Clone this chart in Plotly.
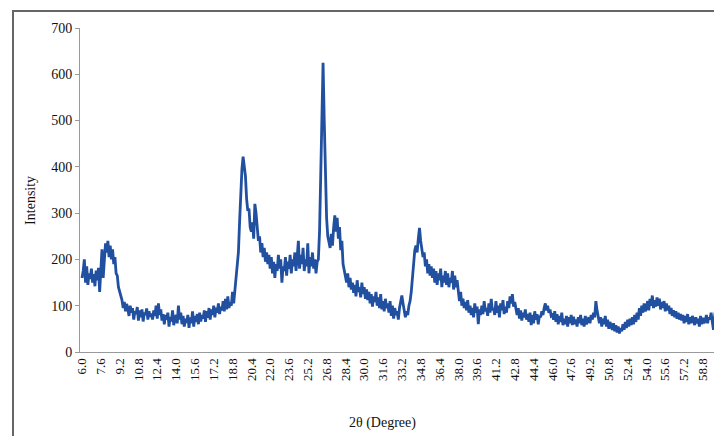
import plotly.graph_objects as go

# 2-theta start/step of the scan (degrees)
theta_start = 6.0
theta_step = 0.1

# Intensity, one row per degree (x.0 .. x.9)
intensity_rows = [
    [160, 175, 200, 150, 185, 145, 170, 158, 180, 150],   # 6
    [168, 142, 176, 155, 182, 130, 175, 222, 160, 200],   # 7
    [235, 215, 240, 205, 230, 200, 222, 190, 205, 170],   # 8
    [165, 140, 130, 118, 112, 95, 108, 88, 104, 92],      # 9
    [78, 100, 85, 95, 70, 88, 82, 97, 68, 90],            # 10
    [75, 92, 66, 85, 80, 94, 70, 88, 76, 83],             # 11
    [70, 90, 78, 100, 72, 105, 80, 92, 68, 82],           # 12
    [60, 80, 70, 85, 55, 76, 66, 90, 58, 72],             # 13
    [80, 62, 100, 70, 85, 60, 78, 55, 72, 63],            # 14
    [80, 52, 75, 62, 88, 55, 78, 65, 82, 60],             # 15
    [85, 66, 80, 72, 90, 65, 88, 74, 95, 70],             # 16
    [92, 80, 100, 75, 96, 85, 105, 82, 98, 90],           # 17
    [110, 88, 115, 92, 120, 95, 108, 100, 130, 105],      # 18
    [130, 150, 175, 215, 280, 350, 395, 422, 405, 380],   # 19
    [330, 305, 310, 270, 260, 280, 245, 320, 300, 265],   # 20
    [240, 250, 215, 235, 205, 225, 195, 215, 190, 210],   # 21
    [180, 205, 170, 195, 160, 190, 175, 210, 180, 200],   # 22
    [150, 185, 175, 205, 165, 195, 180, 210, 170, 200],   # 23
    [185, 215, 175, 205, 240, 180, 210, 190, 225, 175],   # 24
    [200, 185, 235, 170, 205, 185, 215, 180, 200, 170],   # 25
    [195, 200, 260, 380, 520, 625, 500, 360, 290, 250],   # 26
    [240, 225, 255, 230, 270, 295, 260, 290, 245, 270],   # 27
    [220, 240, 190, 175, 160, 150, 170, 140, 160, 135],   # 28
    [150, 128, 145, 120, 155, 130, 140, 118, 150, 125],   # 29
    [140, 115, 135, 112, 130, 105, 125, 98, 120, 108],    # 30
    [130, 100, 118, 95, 125, 92, 110, 88, 115, 95],       # 31
    [105, 85, 110, 78, 100, 72, 95, 80, 88, 70],          # 32
    [95, 112, 122, 105, 90, 75, 88, 80, 100, 110],        # 33
    [130, 165, 195, 220, 230, 215, 245, 268, 240, 225],   # 34
    [205, 215, 185, 200, 170, 190, 165, 185, 160, 180],   # 35
    [150, 175, 145, 170, 155, 180, 140, 165, 150, 175],   # 36
    [145, 170, 140, 160, 150, 175, 135, 165, 140, 155],   # 37
    [125, 110, 130, 100, 115, 95, 108, 90, 112, 85],      # 38
    [100, 80, 95, 75, 105, 85, 98, 60, 92, 80],           # 39
    [100, 82, 110, 88, 95, 78, 105, 85, 115, 90],         # 40
    [95, 80, 110, 85, 100, 75, 105, 90, 112, 82],         # 41
    [98, 85, 110, 95, 120, 105, 125, 98, 108, 88],        # 42
    [80, 95, 72, 90, 68, 85, 75, 92, 70, 82],             # 43
    [65, 85, 58, 80, 62, 88, 70, 82, 60, 78],             # 44
    [75, 88, 80, 95, 105, 90, 100, 85, 92, 78],           # 45
    [80, 70, 88, 65, 82, 60, 78, 65, 85, 58],             # 46
    [72, 60, 78, 55, 75, 62, 80, 58, 76, 60],             # 47
    [70, 55, 75, 62, 80, 58, 72, 55, 78, 60],             # 48
    [68, 75, 62, 80, 70, 85, 75, 110, 90, 78],            # 49
    [62, 75, 55, 72, 60, 78, 55, 70, 50, 65],             # 50
    [55, 48, 62, 45, 58, 42, 55, 40, 52, 45],             # 51
    [60, 48, 65, 52, 70, 55, 72, 58, 75, 60],             # 52
    [80, 65, 85, 70, 95, 78, 100, 85, 105, 88],           # 53
    [95, 110, 90, 115, 100, 122, 95, 112, 98, 118],       # 54
    [100, 115, 92, 108, 95, 110, 88, 105, 90, 100],       # 55
    [82, 95, 78, 90, 75, 88, 72, 85, 70, 82],             # 56
    [68, 80, 62, 78, 65, 82, 60, 75, 62, 78],             # 57
    [70, 58, 75, 62, 72, 55, 78, 60, 74, 62],             # 58
    [68, 80, 62, 75, 70, 85, 65, 48, 78, 95],             # 59
]

# Category tick labels shown on the x axis
tick_labels = ["6.0", "7.6", "9.2", "10.8", "12.4", "14.0", "15.6", "17.2", "18.8",
               "20.4", "22.0", "23.6", "25.2", "26.8", "28.4", "30.0", "31.6", "33.2",
               "34.8", "36.4", "38.0", "39.6", "41.2", "42.8", "44.4", "46.0", "47.6",
               "49.2", "50.8", "52.4", "54.0", "55.6", "57.2", "58.8"]

y_vals = [v for row in intensity_rows for v in row]
x_vals = [round(theta_start + i * theta_step, 2) for i in range(len(y_vals))]
tick_vals = [float(t) for t in tick_labels]

fig = go.Figure()
fig.add_trace(go.Scatter(x=x_vals, y=y_vals, mode="lines",
                         line=dict(color="#2150A0", width=2.8), showlegend=False,
                         hoverinfo="skip"))

serif = "Liberation Serif, Times New Roman, serif"
# the page body adds an 8px margin at top/left, so the figure is 8px smaller
fig.update_layout(
    width=714, height=428, autosize=False,
    margin=dict(l=72, r=7, t=20, b=84, autoexpand=False),
    paper_bgcolor="white", plot_bgcolor="white",
    font=dict(family=serif, color="#111"),
    xaxis=dict(range=[5.83, 59.83], tickmode="array", tickvals=tick_vals,
               ticktext=tick_labels, tickangle=-90, showgrid=False, zeroline=False,
               showline=True, linecolor="#9a9a9a", linewidth=1, ticks="",
               automargin=False,
               tickfont=dict(family=serif, size=13, color="#111")),
    yaxis=dict(range=[0, 700], tickvals=[0, 100, 200, 300, 400, 500, 600, 700],
               showgrid=False, zeroline=False, showline=True, linecolor="#9a9a9a",
               linewidth=1, ticks="outside", ticklen=4, tickcolor="#9a9a9a",
               automargin=False,
               tickfont=dict(family=serif, size=14, color="#111")),
    annotations=[
        dict(text="2θ (Degree)", xref="paper", yref="paper", x=0.477, y=-0.219,
             showarrow=False, xanchor="center", yanchor="middle",
             font=dict(family=serif, size=14, color="#111")),
        dict(text="Intensity", xref="paper", yref="paper", x=-0.079, y=0.469,
             showarrow=False, textangle=-90, xanchor="center", yanchor="middle",
             font=dict(family=serif, size=14, color="#111")),
    ],
    shapes=[
        dict(type="rect", xref="paper", yref="paper", x0=-0.1055, x1=1.1,
             y0=-0.35, y1=1.0525, line=dict(color="#666", width=2),
             fillcolor="rgba(0,0,0,0)", layer="below"),
    ],
)

fig.write_html("out.html")
